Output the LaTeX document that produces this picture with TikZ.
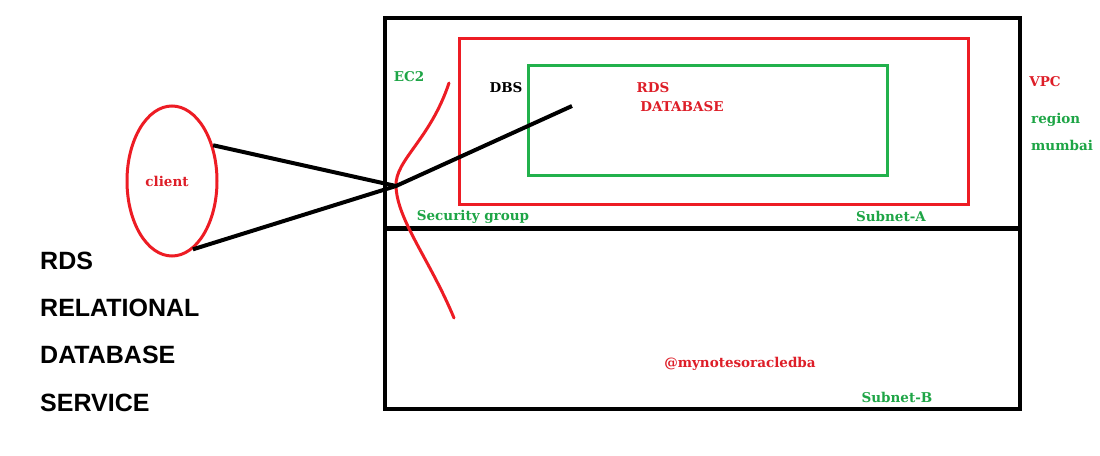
\documentclass[tikz,border=0pt]{standalone}
\usepackage{fontspec}
\setmainfont{DejaVu Serif}
\newfontfamily\bigfont{Liberation Sans}
\usetikzlibrary{shapes.geometric}
\definecolor{pred}{RGB}{237,28,36}
\definecolor{pgreen}{RGB}{34,177,76}
\definecolor{tred}{RGB}{222,30,40}
\definecolor{tgreen}{RGB}{30,165,70}
\tikzset{
  blk/.style={draw=black, line width=4pt},
  redbox/.style={draw=pred, line width=3pt},
  greenbox/.style={draw=pgreen, line width=3pt},
  lbl/.style={font=\bfseries\fontsize{13.5}{15}\selectfont, inner sep=0pt},
  big/.style={font=\bigfont\bfseries\fontsize{25}{28}\selectfont, anchor=west, inner sep=0pt},
  conn/.style={draw=black, line width=4pt},
}
\begin{document}
\begin{tikzpicture}[x=1pt,y=-1pt]
\useasboundingbox[fill=white] (0,0) rectangle (1100,455);
% VPC box
\draw[blk] (385,18) rectangle (1020,409);
\draw[draw=black, line width=5pt] (385,228) -- (1020,228);
% subnet A red box
\draw[redbox] (459,38) rectangle (968,204);
% DB green box
\draw[greenbox] (528,65) rectangle (887,175);
% client
\node[ellipse, draw=pred, line width=3pt, minimum width=90pt, minimum height=150pt, inner sep=0pt,
      text=tred, font=\bfseries\fontsize{13.5}{15}\selectfont] (client) at (172,181) {};
\node[lbl, text=tred] (clientlbl) at (167,181) {client};
% security group curve
\coordinate (j) at (396,186);
\coordinate (db) at (572,106);
\coordinate (sgtop) at (449,83);
\coordinate (sgbot) at (454,318);
\draw[draw=pred, line width=3pt, line cap=round] (sgtop) .. controls (430,140) and (395,160) .. (j)
      .. controls (397,220) and (430,260) .. (sgbot);
% connectors
\draw[conn] (client.41) -- (j);
\draw[conn] (client.-73) -- (j) -- (db);
% labels
\node[lbl, text=tgreen] (ec2) at (409,77) {EC2};
\node[lbl, text=black] (dbs) at (506,88) {DBS};
\node[lbl, text=tred] (rds) at (653,88) {RDS};
\node[lbl, text=tred] (database) at (682,107) {DATABASE};
\node[lbl, text=tred] (vpc) at (1045,82) {VPC};
\node[lbl, text=tgreen, anchor=west] (region) at (1031,120) {region};
\node[lbl, text=tgreen, anchor=west] (mumbai) at (1031,145) {mumbai};
\node[lbl, text=tgreen] (sg) at (473,217) {Security group};
\node[lbl, text=tgreen] (subA) at (891,216) {Subnet-A};
\node[lbl, text=tred] (handle) at (740,364) {@mynotesoracledba};
\node[lbl, text=tgreen] (subB) at (897,397) {Subnet-B};
% title
\node[big] (t1) at (40,261) {RDS};
\node[big] (t2) at (40,308) {RELATIONAL};
\node[big] (t3) at (40,355) {DATABASE};
\node[big] (t4) at (40,403) {SERVICE};
\end{tikzpicture}
\end{document}
